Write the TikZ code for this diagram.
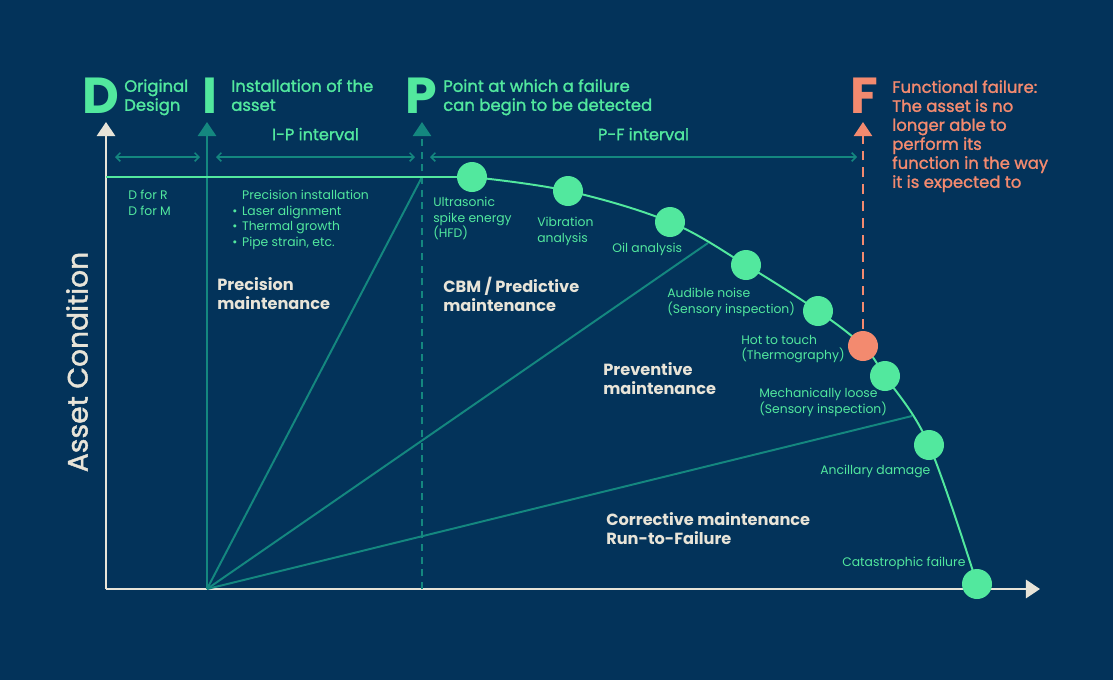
\documentclass[tikz,border=0pt]{standalone}
\usepackage{fontspec}
\setmainfont{Poppins}
\newfontfamily\medfont{Poppins}[FakeBold=1.5]
\usetikzlibrary{arrows.meta}
\usetikzlibrary{positioning}

\definecolor{navy}{HTML}{03335A}
\definecolor{mint}{HTML}{52E89E}
\definecolor{tealline}{HTML}{14877F}
\definecolor{coral}{HTML}{F38A6F}
\definecolor{cream}{HTML}{E8E4D8}

\begin{document}
\begin{tikzpicture}[x=0.025cm,y=-0.025cm,
    every node/.style={inner sep=0pt},
    letter/.style={font=\fontsize{36}{36}\selectfont\bfseries,anchor=base},
    head/.style={font=\medfont\fontsize{11.7}{13.5}\selectfont,align=left,anchor=north west},
    tag/.style={font=\fontsize{8.8}{11}\selectfont,text=mint,align=left,anchor=north west},
    zone/.style={font=\fontsize{11.5}{13.5}\selectfont\bfseries,text=cream,align=left,anchor=north west},
    dot/.style={circle,fill=mint,minimum size=0.75cm},
    tip/.style={-{Triangle[width=13pt,length=10pt]}},
    axis/.style={cream,line width=1.5pt,tip},
    guide/.style={tealline,line width=1.4pt},
    span/.style={tealline,line width=1.1pt,{Straight Barb[length=3pt,width=6pt]}-{Straight Barb[length=3pt,width=6pt]}},
    curve/.style={mint,line width=1.4pt}]
    \fill[navy] (0,0) rectangle (1113,680);

    % axes
    \coordinate (o) at (106,589);
    \coordinate (ytip) at (106,122);
    \coordinate (xtip) at (1040,589);
    \draw[axis] (o) -- (ytip);
    \draw[axis] (o) -- (xtip);

    % I and P marks
    \coordinate (i0) at (207,589);
    \coordinate (itip) at (207,122);
    \coordinate (p0) at (422,589);
    \coordinate (ptip) at (422,122);
    \draw[guide,tip] (i0) -- (itip);
    \draw[guide,tip,line width=1.1pt,dash pattern=on 5pt off 4pt] (p0) -- (ptip);

    % maintenance fan
    \coordinate (s1) at (422,177);
    \coordinate (s2) at (708,243);
    \coordinate (s3) at (912,416);
    \foreach \s in {s1,s2,s3}
        \draw[guide] (i0) -- (\s);

    % intervals
    \coordinate (d1) at (115,157);
    \coordinate (d2) at (200,157);
    \coordinate (ip1) at (216,157);
    \coordinate (ip2) at (415,157);
    \coordinate (pf1) at (430,157);
    \coordinate (pf2) at (857,157);
    \draw[span] (d1) -- (d2);
    \draw[span] (ip1) -- node[midway,anchor=base,yshift=12pt,font=\medfont\fontsize{11.5}{13.5}\selectfont,text=mint] (iplabel) {I-P interval} (ip2);
    \draw[span] (pf1) -- node[midway,anchor=base,yshift=12pt,font=\medfont\fontsize{11.5}{13.5}\selectfont,text=mint] (pflabel) {P-F interval} (pf2);

    % condition curve
    \foreach \n/\px/\py in {1/472/177,2/568/191,3/670/222,4/746/265,5/818/311,
                            6/863/346,7/885/376,8/929/445,9/977/584}
        \coordinate (p\n) at (\px,\py);
    \coordinate (lvl) at (106,177);
    \draw[curve] (lvl) -- plot[smooth,tension=.6] coordinates {(p1) (p2) (p3) (p4) (p5) (p6) (p7) (p8) (p9)};

    % F mark
    \coordinate (ftip) at (863,122);
    \draw[coral,line width=1.1pt,dash pattern=on 7pt off 5pt,tip,shorten <=12pt] (p6) -- (ftip);

    \foreach \n in {1,2,3,4,5,7,8,9}
        \node[dot] (c\n) at (p\n) {};
    \node[dot,fill=coral] (c6) at (p6) {};

    % headings
    \node[letter,text=mint] (D) at (101,113) {D};
    \node[head,text=mint] (orig) at (124,79) {Original\\Design};
    \node[letter,text=mint] (I) at (210,113) {I};
    \node[head,text=mint] (inst) at (231,79) {Installation of the\\asset};
    \node[letter,text=mint] (P) at (421,113) {P};
    \node[head,text=mint] (point) at (443,79) {Point at which a failure\\can begin to be detected};
    \node[letter,text=coral] (F) at (864,113) {F};
    \node[head,text=coral] (func) at (892,80) {Functional failure:\\The asset is no\\longer able to\\perform its\\function in the way\\it is expected to};

    % tags
    \node[tag] (dfor) at (128,190) {D for R\\D for M};
    \node[tag] (prec) at (232,190) {\hspace*{7pt}Precision installation\\
        \makebox[7pt][l]{•}Laser alignment\\
        \makebox[7pt][l]{•}Thermal growth\\
        \makebox[7pt][l]{•}Pipe strain, etc.};
    \node[tag] (hfd) at (433,197) {Ultrasonic\\spike energy\\(HFD)};
    \node[tag] (vib) at (537,217) {Vibration\\analysis};
    \node[tag] (oil) at (612,243) {Oil analysis};
    \node[tag] (noise) at (667,288) {Audible noise\\(Sensory inspection)};
    \node[tag] (touch) at (741,335) {Hot to touch\\(Thermography)};
    \node[tag] (loose) at (759,388) {Mechanically loose\\(Sensory inspection)};
    \node[tag] (ancil) at (820,465) {Ancillary damage};
    \node[tag] (cata) at (842,557) {Catastrophic failure};

    % zones
    \node[zone] (precm) at (217,277) {Precision\\maintenance};
    \node[zone] (cbm) at (443,277) {CBM / Predictive\\maintenance};
    \node[zone] (prev) at (603,362) {Preventive\\maintenance};
    \node[zone] (corr) at (606,512) {Corrective maintenance\\Run-to-Failure};

    \node[font=\medfont\fontsize{20}{20}\selectfont,text=cream,rotate=90] (ylabel) at (77,362) {Asset Condition};
\end{tikzpicture}
\end{document}
